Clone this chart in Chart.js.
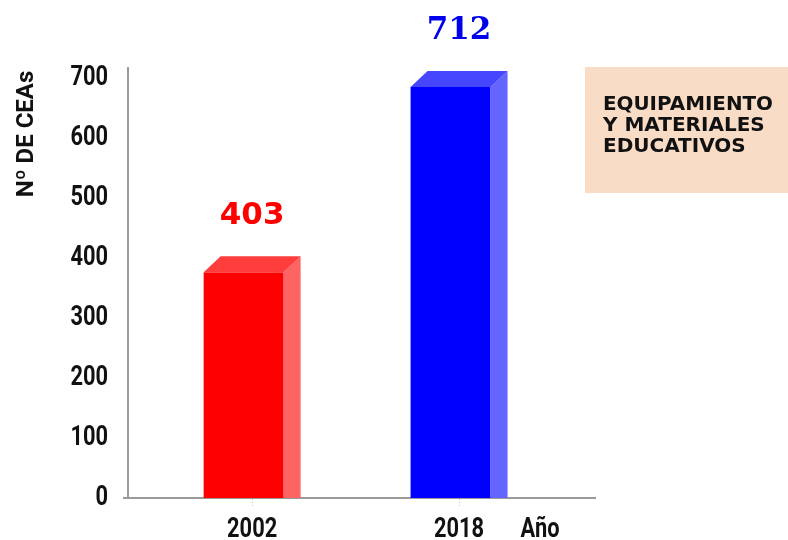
<!DOCTYPE html>
<html>
<head>
<meta charset="utf-8">
<script src="https://cdn.jsdelivr.net/npm/chart.js@4"></script>
<style>
  html, body { margin: 0; padding: 0; background: #fff; }
  #wrap { width: 788px; height: 540px; }
</style>
</head>
<body>
<div id="wrap"><canvas id="chart"></canvas></div>
<script>
const years = ["2002", "2018"];
const ceas = [403, 712];
const yTicks = [0, 100, 200, 300, 400, 500, 600, 700];
const yTitle = "Nº DE CEAs";
const xUnit = "Año";
const noteLines = ["EQUIPAMIENTO", "Y MATERIALES", "EDUCATIVOS"];

const axisGrey = "#9a9a9a";
const ink = "#111";
const tickFont = "bold 28px Roboto, sans-serif";
const squeeze = 0.78; // no condensed face installed, so squeeze the glyphs
const faces = [
  { front: "#ff0000", top: "#ff3d3d", side: "#ff6464", label: "#ff0000", font: "bold 31px 'DejaVu Sans', sans-serif" },
  { front: "#0000ff", top: "#4646ff", side: "#6464ff", label: "#0000ee", font: "bold 31px 'DejaVu Serif', serif" }
];

function narrowText(ctx, text, x, y, align) {
  ctx.save();
  ctx.translate(x, y);
  ctx.scale(squeeze, 1);
  ctx.textAlign = align;
  ctx.fillText(text, 0, 0);
  ctx.restore();
}

// 3D look: front face, lighter top and right side
const box3d = {
  id: "box3d",
  afterDatasetsDraw(chart) {
    const ctx = chart.ctx;
    const meta = chart.getDatasetMeta(0);
    const dx = 17, dy = 16, frontW = 80;
    meta.data.forEach((bar, i) => {
      const c = faces[i];
      const left = bar.x - 48.5;
      const right = left + frontW;
      const top = bar.y + dy;
      const base = bar.base;
      ctx.save();
      ctx.fillStyle = c.front;
      ctx.fillRect(left, top, frontW, base - top);
      ctx.fillStyle = c.side;
      ctx.beginPath();
      ctx.moveTo(right, top);
      ctx.lineTo(right + dx, bar.y);
      ctx.lineTo(right + dx, base);
      ctx.lineTo(right, base);
      ctx.closePath();
      ctx.fill();
      ctx.fillStyle = c.top;
      ctx.beginPath();
      ctx.moveTo(left, top);
      ctx.lineTo(left + dx, bar.y);
      ctx.lineTo(right + dx, bar.y);
      ctx.lineTo(right, top);
      ctx.closePath();
      ctx.fill();
      ctx.fillStyle = c.label;
      ctx.font = c.font;
      ctx.textAlign = "center";
      ctx.textBaseline = "middle";
      ctx.fillText(String(ceas[i]), bar.x, bar.y - 40);
      ctx.restore();
    });
  }
};

const labels = {
  id: "labels",
  afterDraw(chart) {
    const ctx = chart.ctx;
    const x = chart.scales.x;
    const y = chart.scales.y;
    const area = chart.chartArea;
    ctx.save();
    ctx.fillStyle = ink;
    ctx.font = tickFont;
    ctx.textBaseline = "middle";
    y.ticks.forEach((t) => narrowText(ctx, String(t.value), area.left - 20, y.getPixelForValue(t.value), "right"));
    x.ticks.forEach((t) => narrowText(ctx, years[t.value], x.getPixelForValue(t.value), 530, "center"));
    narrowText(ctx, xUnit, x.getPixelForValue(years.length - 1) + 81, 530, "center");

    // rotated axis title
    ctx.save();
    ctx.translate(27, 134);
    ctx.rotate(-Math.PI / 2);
    ctx.font = "bold 24px Roboto, sans-serif";
    ctx.textAlign = "center";
    ctx.fillText(yTitle, 0, 0, 127);
    ctx.restore();

    // short stub of the x axis left of the y axis
    ctx.strokeStyle = axisGrey;
    ctx.lineWidth = 2;
    ctx.beginPath();
    ctx.moveTo(area.left - 5, area.bottom);
    ctx.lineTo(area.left, area.bottom);
    ctx.stroke();

    // note box
    ctx.fillStyle = "#f9dcc6";
    ctx.fillRect(585, 67, 203, 126);
    ctx.fillStyle = ink;
    ctx.font = "bold 20px 'DejaVu Sans', sans-serif";
    ctx.textAlign = "left";
    noteLines.forEach((t, i) => ctx.fillText(t, 603, 105 + i * 21, 170));
    ctx.restore();
  }
};

new Chart(document.getElementById("chart"), {
  type: "bar",
  plugins: [box3d, labels],
  data: {
    datasets: [{
      data: ceas.map((v, i) => ({ x: i, y: v })),
      backgroundColor: "transparent",
      borderWidth: 0,
      barThickness: 97
    }]
  },
  options: {
    responsive: true,
    maintainAspectRatio: false,
    animation: false,
    layout: { padding: { top: 68, right: 193, bottom: 0, left: 0 } },
    plugins: { legend: { display: false }, tooltip: { enabled: false } },
    scales: {
      x: {
        type: "linear",
        offset: false,
        min: -0.6,
        max: 1.657,
        afterBuildTicks(scale) { scale.ticks = years.map((yr, i) => ({ value: i })); },
        afterFit(scale) { scale.height = 42; },
        border: { display: true, color: axisGrey, width: 2 },
        grid: { offset: false, drawOnChartArea: false, drawTicks: true, tickLength: 8, tickColor: "#c8c8c8", tickBorderDash: [1, 2] },
        ticks: { display: false }
      },
      y: {
        min: 0,
        max: 717,
        afterBuildTicks(scale) { scale.ticks = yTicks.map((v) => ({ value: v })); },
        afterFit(scale) { scale.width = 128; },
        border: { display: true, color: axisGrey, width: 2 },
        grid: { display: false },
        ticks: { display: false }
      }
    }
  }
});
</script>
</body>
</html>
